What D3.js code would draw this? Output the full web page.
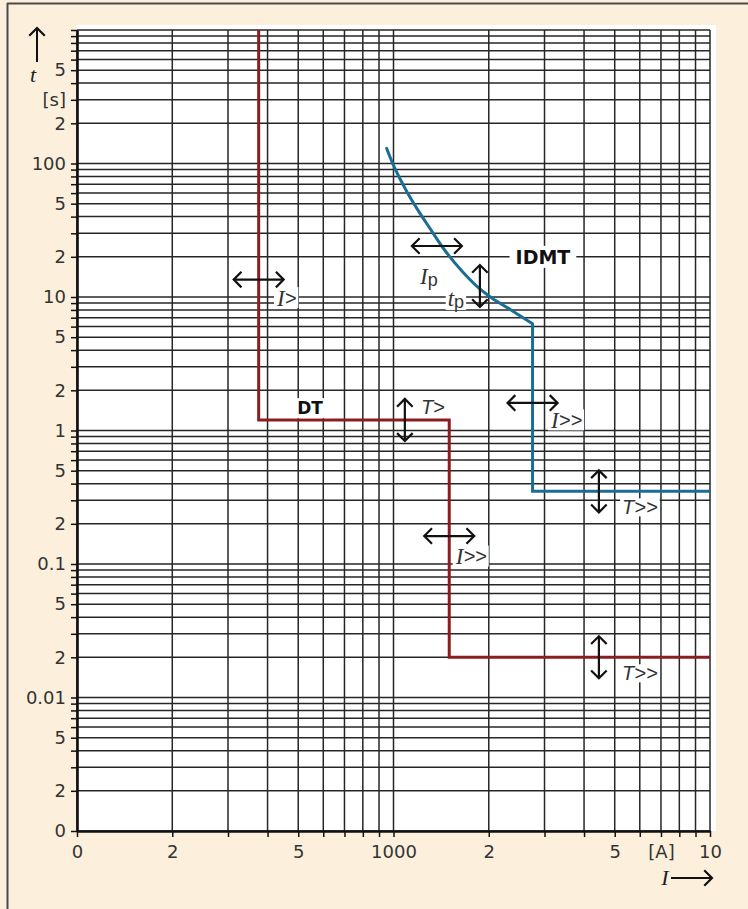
<!DOCTYPE html>
<html><head><meta charset="utf-8">
<script src="https://cdn.jsdelivr.net/npm/d3@7"></script>
<style>
html,body{margin:0;padding:0;background:#fcf0dc;}
svg{display:block;}
</style></head>
<body><svg id="chart" width="748" height="909"></svg>
<script>
// ---- tick labels ----
const xTickValues = [100, 200, 500, 1000, 2000, 5000, 7000, 10000];
const xTickLabels = ["0", "2", "5", "1000", "2", "5", "[A]", "10"];
const yTickValues = [0.001, 0.002, 0.005, 0.01, 0.02, 0.05, 0.1, 0.2, 0.5, 1, 2, 5, 10, 20, 50, 100, 200, 300, 500];
const yTickLabels = ["0", "2", "5", "0.01", "2", "5", "0.1", "2", "5", "1", "2", "5", "10", "2", "5", "100", "2", "[s]", "5"];

// ---- series: DT characteristic (current [A], time [s]) ----
const dtCurrent = [375, 375, 1500, 1500, 10000];
const dtTime = [1000, 1.2, 1.2, 0.02, 0.02];

// ---- series: IDMT inverse curve ----
const idmtCurrent = [951, 1000, 1100, 1200, 1300, 1450, 1650, 1850, 2050, 2350, 2750];
const idmtTime = [130, 97, 62, 44, 33, 22.5, 15.5, 11.8, 9.8, 8.0, 6.3];
// ---- series: IDMT high-set step ----
const stepCurrent = [2750, 2750, 10000];
const stepTime = [6.3, 0.35, 0.35];

// ---- annotations (anchored in data units) ----
const annotations = [
  {type: "h", I: 375,  t: 13.5, parts: [["I","s"],[">","i"]], dx: 28, dy: 18},
  {type: "h", I: 1371, t: 24.1, parts: [["I","s"],["p","sub"]], dx: -8, dy: 30},
  {type: "v", I: 1875, t: 12.1, parts: [["t","s"],["p","sub"]], dx: -24, dy: 12},
  {type: "v", I: 1086, t: 1.2,  parts: [["T","i"],[">","i"]], dx: 28, dy: -13},
  {type: "h", I: 2750, t: 1.61, parts: [["I","s"],[">>","i"]], dx: 34, dy: 17},
  {type: "v", I: 4456, t: 0.35, parts: [["T","i"],[">>","i"]], dx: 41, dy: 16},
  {type: "h", I: 1500, t: 0.162, parts: [["I","s"],[">>","i"]], dx: 22, dy: 20},
  {type: "v", I: 4456, t: 0.02, parts: [["T","i"],[">>","i"]], dx: 41, dy: 16}
];
const boldLabels = [
  {text: "IDMT", I: 2966, t: 20, size: 19},
  {text: "DT", I: 545, t: 1.47, size: 17}
];

const svg = d3.select("#chart");
const W = 748, H = 909;
const x = d3.scaleLog().domain([100, 10000]).range([77, 710]);
const y = d3.scaleLog().domain([0.001, 1000]).range([831, 30]);

// background & frame
svg.append("rect").attr("width", W).attr("height", H).attr("fill", "#fcf0dc");
svg.append("line").attr("x1", 7).attr("x2", W).attr("y1", 3.5).attr("y2", 3.5).attr("stroke", "#4a4a4a").attr("stroke-width", 2);
svg.append("line").attr("x1", 7.5).attr("x2", 7.5).attr("y1", 3).attr("y2", H).attr("stroke", "#4a4a4a").attr("stroke-width", 2);
svg.append("rect").attr("x", 76).attr("y", 25).attr("width", 640).attr("height", 806).attr("fill", "#ffffff");

// grid
const gridX = x.ticks();
const gridY = y.ticks();
const grid = svg.append("g").attr("stroke", "#262626").attr("stroke-width", 1.5);
grid.selectAll("line.v").data(gridX).join("line")
  .attr("x1", d => x(d)).attr("x2", d => x(d))
  .attr("y1", y(1000)).attr("y2", y(0.001));
grid.selectAll("line.h").data(gridY).join("line")
  .attr("y1", d => y(d)).attr("y2", d => y(d))
  .attr("x1", x(100)).attr("x2", x(10000));

function labelFor(vals, labels) {
  return v => {
    const i = vals.findIndex(u => Math.abs(u - v) < 1e-6 * u);
    return i >= 0 ? labels[i] : "";
  };
}

const fontFam = "'DejaVu Sans', sans-serif";
const gx = svg.append("g").attr("transform", `translate(0,${y(0.001)})`)
  .call(d3.axisBottom(x).tickValues(gridX).tickFormat(labelFor(xTickValues, xTickLabels))
    .tickSize(6).tickSizeOuter(0).tickPadding(8));
const gy = svg.append("g").attr("transform", `translate(${x(100)},0)`)
  .call(d3.axisLeft(y).tickValues(gridY).tickFormat(labelFor(yTickValues, yTickLabels))
    .tickSize(6).tickSizeOuter(0).tickPadding(5));
[gx, gy].forEach(g => {
  g.select(".domain").attr("stroke", "#111").attr("stroke-width", 2.6);
  g.selectAll(".tick line").attr("stroke", "#111").attr("stroke-width", 1.5);
  g.selectAll(".tick text").attr("fill", "#333").attr("font-family", fontFam).attr("font-size", 18);
});

// axis titles
function arrowHead(g, x0, y0, dir, len) {
  const a1 = dir + Math.PI * 0.75, a2 = dir - Math.PI * 0.75;
  g.append("path").attr("d",
    `M${x0 + len * Math.cos(a1)},${y0 + len * Math.sin(a1)}L${x0},${y0}L${x0 + len * Math.cos(a2)},${y0 + len * Math.sin(a2)}`)
    .attr("fill", "none").attr("stroke", "#111").attr("stroke-width", 2.2).attr("stroke-linejoin", "miter");
}
const titles = svg.append("g");
titles.append("line").attr("x1", 37).attr("x2", 37).attr("y1", 29).attr("y2", 62).attr("stroke", "#111").attr("stroke-width", 2);
arrowHead(titles, 37, 28, -Math.PI / 2, 11);
titles.append("text").attr("x", 33).attr("y", 82).attr("text-anchor", "middle")
  .attr("font-family", "'Liberation Serif', serif").attr("font-style", "italic").attr("font-size", 22).attr("fill", "#222").text("t");
titles.append("line").attr("x1", 671).attr("x2", 711).attr("y1", 878).attr("y2", 878).attr("stroke", "#111").attr("stroke-width", 2);
arrowHead(titles, 712, 878, 0, 11);
titles.append("text").attr("x", 665).attr("y", 885).attr("text-anchor", "middle")
  .attr("font-family", "'Liberation Serif', serif").attr("font-style", "italic").attr("font-size", 22).attr("fill", "#222").text("I");

// curves
const line = d3.line().x(d => x(d[0])).y(d => y(d[1]));
const curve = d3.line().x(d => x(d[0])).y(d => y(d[1])).curve(d3.curveCatmullRom.alpha(0.5));
svg.append("path").datum(dtCurrent.map((c, i) => [c, dtTime[i]]))
  .attr("d", line).attr("fill", "none").attr("stroke", "#8b1c1f").attr("stroke-width", 3);
svg.append("path").datum(idmtCurrent.map((c, i) => [c, idmtTime[i]]))
  .attr("d", curve).attr("fill", "none").attr("stroke", "#1b6e93").attr("stroke-width", 3).attr("stroke-linecap", "round");
svg.append("path").datum(stepCurrent.map((c, i) => [c, stepTime[i]]))
  .attr("d", line).attr("fill", "none").attr("stroke", "#1b6e93").attr("stroke-width", 3);

// annotations
const ann = svg.append("g");
annotations.forEach(a => {
  const cx = x(a.I), cy = y(a.t);
  const g = ann.append("g");
  const tx = g.append("text").attr("x", cx + a.dx).attr("y", cy + a.dy).attr("text-anchor", "middle")
    .attr("dominant-baseline", "central").attr("fill", "#333");
  a.parts.forEach(p => {
    const ts = tx.append("tspan").text(p[0]);
    if (p[1] === "s") ts.attr("font-family", "'Liberation Serif', serif").attr("font-style", "italic").attr("font-size", 23);
    else if (p[1] === "sub") ts.attr("font-family", "'Liberation Sans', sans-serif").attr("font-size", 18).attr("dy", 4);
    else ts.attr("font-family", "'Liberation Sans', sans-serif").attr("font-style", "italic").attr("font-size", 20);
  });
  const bb = tx.node().getBBox();
  g.insert("rect", "text").attr("x", bb.x - 2).attr("y", bb.y + 2).attr("width", bb.width + 4).attr("height", bb.height - 4).attr("fill", "#fff");
  const ag = g.append("g");
  if (a.type === "h") {
    ag.append("line").attr("x1", cx - 24).attr("x2", cx + 24).attr("y1", cy).attr("y2", cy).attr("stroke", "#111").attr("stroke-width", 2.2);
    arrowHead(ag, cx - 25, cy, Math.PI, 11);
    arrowHead(ag, cx + 25, cy, 0, 11);
  } else {
    ag.append("line").attr("y1", cy - 20).attr("y2", cy + 20).attr("x1", cx).attr("x2", cx).attr("stroke", "#111").attr("stroke-width", 2.2);
    arrowHead(ag, cx, cy - 21, -Math.PI / 2, 11);
    arrowHead(ag, cx, cy + 21, Math.PI / 2, 11);
  }
});
boldLabels.forEach(b => {
  const g = ann.append("g");
  const tx = g.append("text").attr("x", x(b.I)).attr("y", y(b.t)).attr("text-anchor", "middle")
    .attr("dominant-baseline", "central").attr("font-family", fontFam).attr("font-weight", "bold")
    .attr("font-size", b.size).attr("fill", "#111").text(b.text);
  const bb = tx.node().getBBox();
  g.insert("rect", "text").attr("x", bb.x - 6).attr("y", bb.y).attr("width", bb.width + 12).attr("height", bb.height).attr("fill", "#fff");
});
</script>
</body></html>
